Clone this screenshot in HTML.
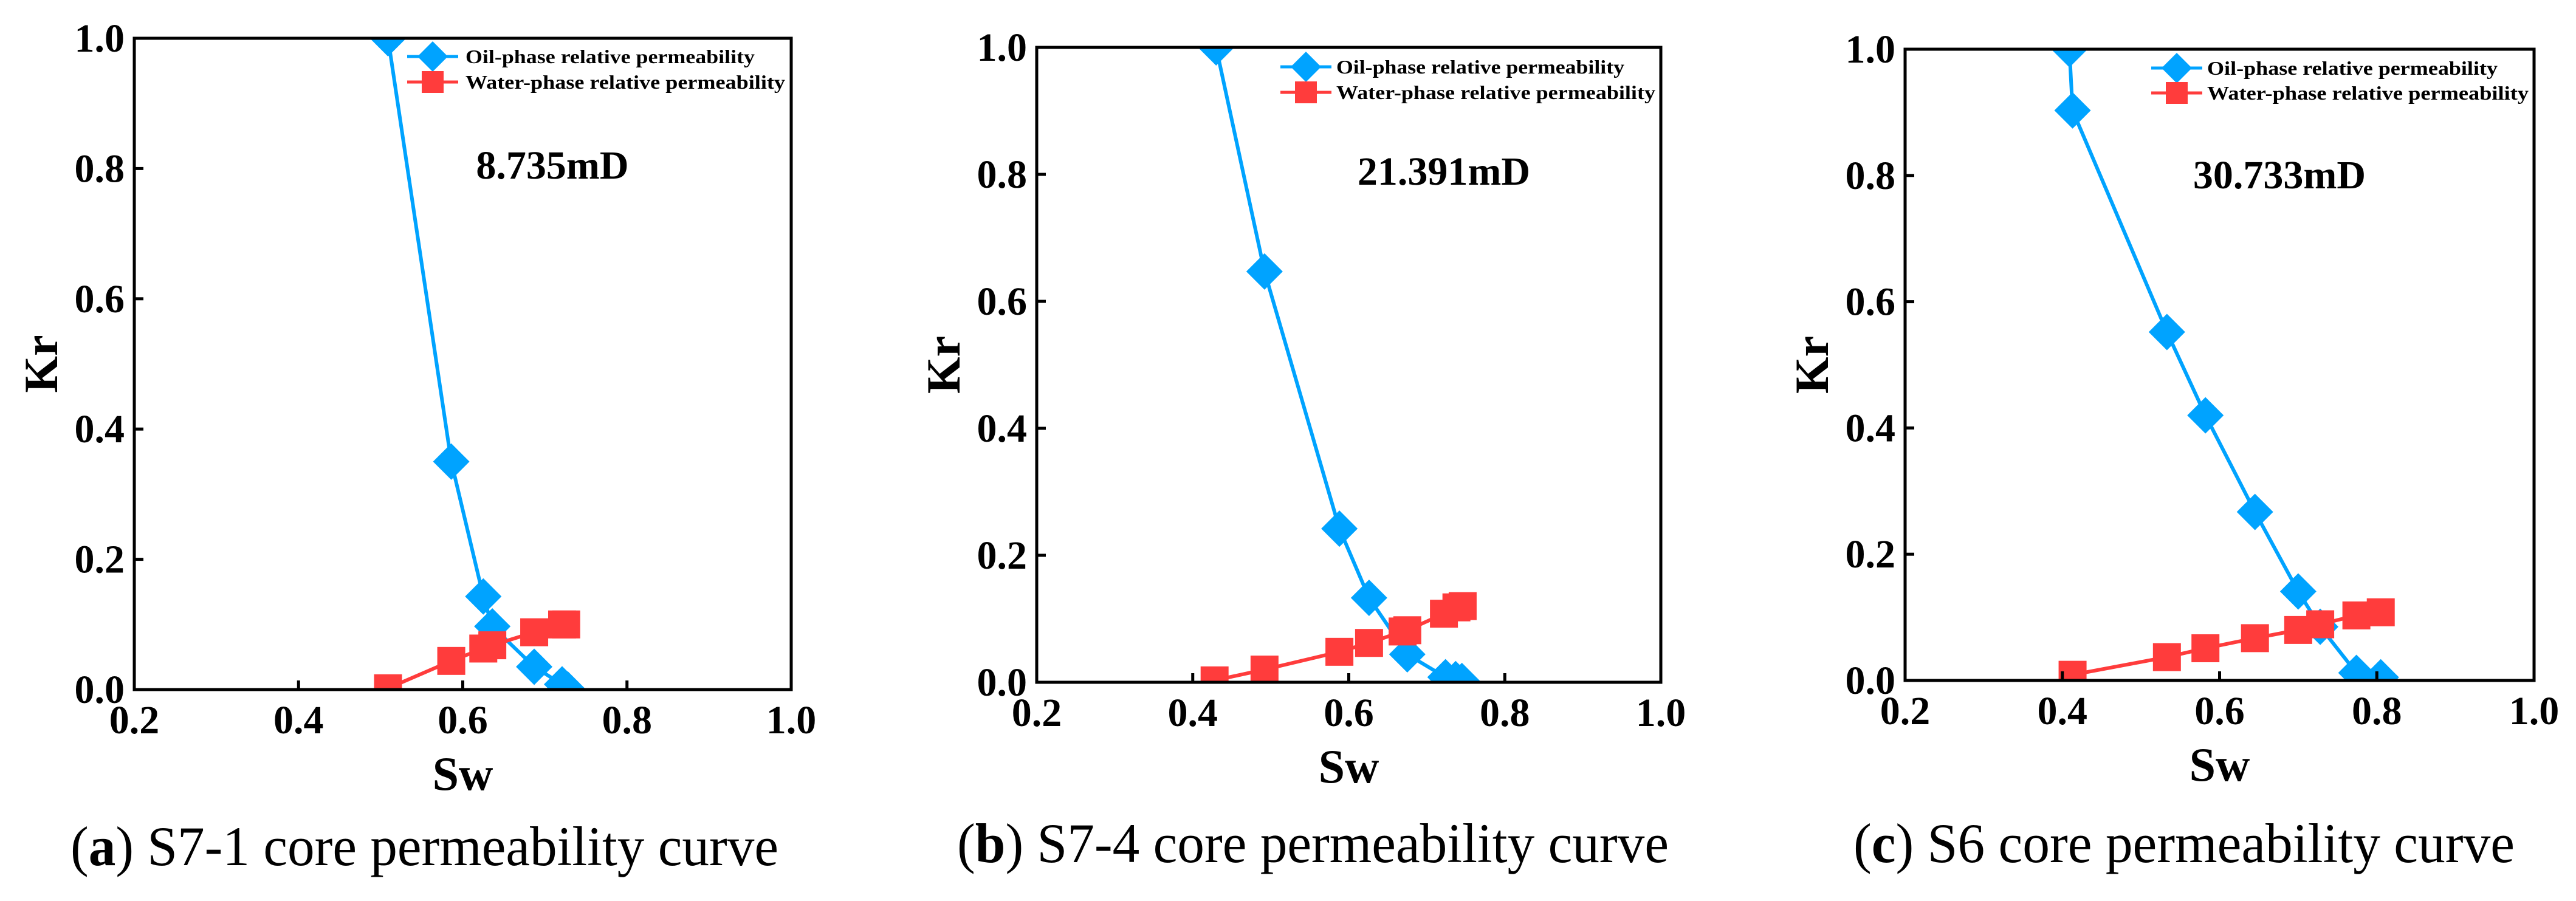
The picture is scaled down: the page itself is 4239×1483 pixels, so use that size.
<!DOCTYPE html>
<html><head><meta charset="utf-8">
<style>
html,body{margin:0;padding:0;background:#fff;}
svg{display:block;}
text{font-family:"Liberation Serif",serif;}
</style></head>
<body>
<svg id="fig" width="4239" height="1483" viewBox="0 0 4239 1483" xmlns="http://www.w3.org/2000/svg"></svg>
<script>
// ---- data ----
const xTicks = [0.2, 0.4, 0.6, 0.8, 1.0];
const yTicks = [0.0, 0.2, 0.4, 0.6, 0.8, 1.0];
const xTickLabels = ["0.2", "0.4", "0.6", "0.8", "1.0"];
const yTickLabels = ["0.0", "0.2", "0.4", "0.6", "0.8", "1.0"];
const panelIds = ["a", "b", "c"];
const permLabels = ["8.735mD", "21.391mD", "30.733mD"];
const captionLetters = ["a", "b", "c"];
const captionTexts = [" S7-1 core permeability curve", " S7-4 core permeability curve", " S6 core permeability curve"];
const oilSwA = [0.509, 0.586, 0.625, 0.636, 0.687, 0.721, 0.728];
const oilKrA = [1.0, 0.35, 0.143, 0.097, 0.035, 0.008, 0.0];
const waterSwA = [0.509, 0.586, 0.625, 0.636, 0.687, 0.721, 0.726];
const waterKrA = [0.002, 0.044, 0.063, 0.068, 0.088, 0.10, 0.10];
const oilSwB = [0.430, 0.492, 0.588, 0.626, 0.675, 0.724, 0.737, 0.745];
const oilKrB = [1.0, 0.647, 0.242, 0.133, 0.044, 0.008, 0.005, 0.002];
const waterSwB = [0.428, 0.492, 0.588, 0.626, 0.669, 0.675, 0.722, 0.738, 0.746];
const waterKrB = [0.003, 0.02, 0.048, 0.062, 0.08, 0.082, 0.108, 0.118, 0.12];
const oilSwC = [0.409, 0.413, 0.533, 0.582, 0.645, 0.700, 0.728, 0.774, 0.805];
const oilKrC = [1.0, 0.903, 0.552, 0.42, 0.267, 0.141, 0.085, 0.012, 0.005];
const waterSwC = [0.413, 0.533, 0.582, 0.645, 0.700, 0.728, 0.774, 0.805];
const waterKrC = [0.009, 0.037, 0.051, 0.067, 0.080, 0.089, 0.103, 0.108];

// ---- layout ----
const NS = "http://www.w3.org/2000/svg";
const svg = document.getElementById("fig");
const frames = [
  {L:221, R:1302, T:63, B:1135, legX:712, legY1:93, legY2:135, legT:766, legOilW:476, legWatW:526, permX:909, permY:271, capX:116, capW:1165, capY:1424},
  {L:1706, R:2733, T:78, B:1123, legX:2149, legY1:110, legY2:152, legT:2199, legOilW:474, legWatW:525, permX:2376, permY:281, capX:1575, capW:1171, capY:1419},
  {L:3135, R:4170, T:81, B:1120, legX:3582, legY1:112, legY2:153, legT:3632, legOilW:478, legWatW:529, permX:3751, permY:287, capX:3050, capW:1088, capY:1419}
];
const oilSeries = [[oilSwA, oilKrA], [oilSwB, oilKrB], [oilSwC, oilKrC]];
const waterSeries = [[waterSwA, waterKrA], [waterSwB, waterKrB], [waterSwC, waterKrC]];
const BLUE = "#00a3ff", RED = "#ff3c3c";

function mk(tag, attrs, parent) {
  const e = document.createElementNS(NS, tag);
  for (const k in attrs) e.setAttribute(k, attrs[k]);
  (parent || svg).appendChild(e);
  return e;
}
function diamondPts(cx, cy, r) {
  return `${cx},${cy - r} ${cx + r},${cy} ${cx},${cy + r} ${cx - r},${cy}`;
}

frames.forEach((f, i) => {
  const id = panelIds[i];
  const sx = v => f.L + (v - 0.2) / 0.8 * (f.R - f.L);
  const sy = v => f.B - v * (f.B - f.T);
  const g = mk("g", {});
  
  

  const defs = mk("defs", {}, g);
  const cp = mk("clipPath", {id: "clip" + id}, defs);
  mk("rect", {x: f.L, y: f.T, width: f.R - f.L, height: f.B - f.T}, cp);

  // series
  const sg = mk("g", {"clip-path": `url(#clip${id})`}, g);
  const [ox, oy] = oilSeries[i];
  const [wx, wy] = waterSeries[i];
  const oilLine = mk("polyline", {points: ox.map((v, k) => sx(v) + "," + sy(oy[k])).join(" "), fill: "none", stroke: BLUE, "stroke-width": 6, "stroke-linejoin": "round"}, sg);
  
  
  const watLine = mk("polyline", {points: wx.map((v, k) => sx(v) + "," + sy(wy[k])).join(" "), fill: "none", stroke: RED, "stroke-width": 6, "stroke-linejoin": "round"}, sg);
  
  
  ox.forEach((v, k) => {
    const p = mk("polygon", {points: diamondPts(sx(v), sy(oy[k]), 30), fill: BLUE}, sg);
    
    
  });
  wx.forEach((v, k) => {
    const r = mk("rect", {x: sx(v) - 23, y: sy(wy[k]) - 23, width: 46, height: 46, fill: RED}, sg);
    
    
  });

  // frame
  const fr = mk("rect", {x: f.L, y: f.T, width: f.R - f.L, height: f.B - f.T, fill: "none", stroke: "#000", "stroke-width": 5}, g);
  
  

  // x ticks
  xTicks.forEach((v, k) => {
    const x = sx(v);
    if (k > 0 && k < xTicks.length - 1) mk("line", {x1: x, y1: f.B, x2: x, y2: f.B - 15, stroke: "#000", "stroke-width": 5}, g);
    const t = mk("text", {x: x, y: f.B + 72, "font-size": 66, "font-weight": "bold", "text-anchor": "middle"}, g);
    t.textContent = xTickLabels[k];
    
    
  });
  yTicks.forEach((v, k) => {
    const y = sy(v);
    if (k > 0 && k < yTicks.length - 1) mk("line", {x1: f.L, y1: y, x2: f.L + 15, y2: y, stroke: "#000", "stroke-width": 5}, g);
    const t = mk("text", {x: f.L - 16, y: y + 22, "font-size": 66, "font-weight": "bold", "text-anchor": "end"}, g);
    t.textContent = yTickLabels[k];
    
    
  });

  // axis titles
  const cy = (f.T + f.B) / 2;
  const yt = mk("text", {x: f.L - 127, y: cy, "font-size": 78, "font-weight": "bold", "text-anchor": "middle", transform: `rotate(-90 ${f.L - 127} ${cy})`}, g);
  yt.textContent = "Kr";
  
  
  const xt = mk("text", {x: (f.L + f.R) / 2, y: f.B + 165, "font-size": 78, "font-weight": "bold", "text-anchor": "middle"}, g);
  xt.textContent = "Sw";
  
  

  // legend
  const lg = mk("g", {}, g);
  
  
  mk("line", {x1: f.legX - 42, y1: f.legY1, x2: f.legX + 42, y2: f.legY1, stroke: BLUE, "stroke-width": 5}, lg);
  mk("polygon", {points: diamondPts(f.legX, f.legY1, 25), fill: BLUE}, lg);
  const l1 = mk("text", {x: f.legT, y: f.legY1 + 11, "font-size": 32, "font-weight": "bold", textLength: f.legOilW, lengthAdjust: "spacingAndGlyphs"}, lg);
  l1.textContent = "Oil-phase relative permeability";
  
  
  mk("line", {x1: f.legX - 42, y1: f.legY2, x2: f.legX + 42, y2: f.legY2, stroke: RED, "stroke-width": 5}, lg);
  mk("rect", {x: f.legX - 18, y: f.legY2 - 18, width: 36, height: 36, fill: RED}, lg);
  const l2 = mk("text", {x: f.legT, y: f.legY2 + 11, "font-size": 32, "font-weight": "bold", textLength: f.legWatW, lengthAdjust: "spacingAndGlyphs"}, lg);
  l2.textContent = "Water-phase relative permeability";
  
  

  // permeability label
  const pl = mk("text", {x: f.permX, y: f.permY + 23, "font-size": 66, "font-weight": "bold", "text-anchor": "middle"}, g);
  pl.textContent = permLabels[i];
  
  

  // caption
  const cap = mk("text", {x: f.capX, y: f.capY, "font-size": 92, textLength: f.capW, lengthAdjust: "spacingAndGlyphs"}, g);
  
  
  const t1 = mk("tspan", {}, cap); t1.textContent = "(";
  const t2 = mk("tspan", {"font-weight": "bold"}, cap); t2.textContent = captionLetters[i];
  const t3 = mk("tspan", {}, cap); t3.textContent = ")" + captionTexts[i];
});
</script>
</body></html>
